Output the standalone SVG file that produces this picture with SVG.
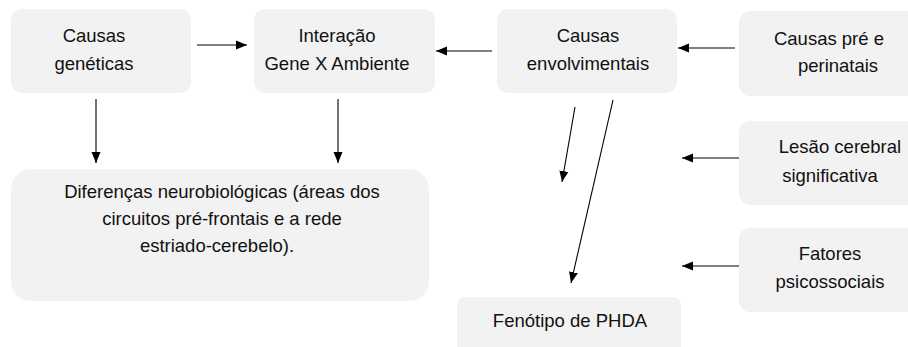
<svg xmlns="http://www.w3.org/2000/svg" width="908" height="347" viewBox="0 0 908 347">
<style>
.box{fill:#f2f2f2;stroke:none}
.t{font-family:"Liberation Sans",Arial,sans-serif;font-size:18.5px;fill:#111;text-anchor:middle}
.c{stroke:#000;stroke-width:1.1;fill:none;marker-end:url(#ah)}
</style>
<defs>
<marker id="ah" markerUnits="userSpaceOnUse" markerWidth="12" markerHeight="10" refX="11" refY="5" orient="auto">
<path d="M0,0.5 L11,5 L0,9.5 z" fill="#000"/>
</marker>
</defs>
<rect width="908" height="347" fill="#fff"/>
<g id="n-geneticas"><rect class="box" x="11" y="9" width="180" height="84" rx="11"/>
<text class="t" x="94" y="42">Causas</text><text class="t" x="94" y="70">genéticas</text></g>
<g id="n-interacao"><rect class="box" x="254" y="9" width="181" height="84" rx="11"/>
<text class="t" x="337" y="42">Interação</text><text class="t" x="337" y="70">Gene X Ambiente</text></g>
<g id="n-envolvimentais"><rect class="box" x="497" y="9" width="180" height="84" rx="11"/>
<text class="t" x="588" y="42">Causas</text><text class="t" x="588" y="70">envolvimentais</text></g>
<g id="n-pre"><rect class="box" x="739" y="11" width="190" height="85" rx="11"/>
<text class="t" x="829" y="45">Causas pré e</text><text class="t" x="838" y="72">perinatais</text></g>
<g id="n-lesao"><rect class="box" x="739" y="121" width="190" height="84" rx="11"/>
<text class="t" x="840" y="153">Lesão cerebral</text><text class="t" x="830" y="182">significativa</text></g>
<g id="n-fatores"><rect class="box" x="739" y="228" width="190" height="84" rx="11"/>
<text class="t" x="830" y="260">Fatores</text><text class="t" x="830" y="288">psicossociais</text></g>
<g id="n-fenotipo"><rect class="box" x="457" y="297" width="224" height="60" rx="8"/>
<text class="t" x="570" y="327">Fenótipo de PHDA</text></g>
<g id="n-diferencas"><rect class="box" x="11" y="169" width="418" height="132" rx="20"/>
<text class="t" x="222" y="198">Diferenças neurobiológicas (áreas dos</text>
<text class="t" x="222" y="225">circuitos pré-frontais e a rede</text>
<text class="t" x="217" y="252">estriado-cerebelo).</text></g>
<g id="connectors">
<line class="c" x1="197" y1="45" x2="247" y2="45"/>
<line class="c" x1="492" y1="51" x2="436" y2="51"/>
<line class="c" x1="735" y1="48" x2="678" y2="48"/>
<line class="c" x1="96" y1="99" x2="96" y2="163"/>
<line class="c" x1="338" y1="99" x2="338" y2="163"/>
<line class="c" x1="739" y1="158" x2="682" y2="158"/>
<line class="c" x1="739" y1="266" x2="682" y2="266"/>
<line class="c" x1="575" y1="107" x2="562" y2="182"/>
<line class="c" x1="613" y1="100" x2="571" y2="283"/>
</g>
</svg>
